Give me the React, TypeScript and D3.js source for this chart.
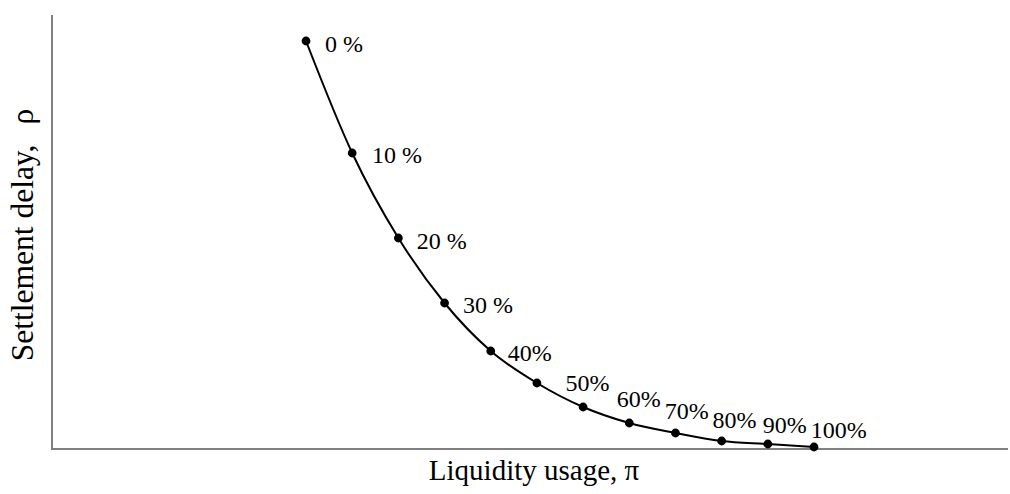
import React from "react";
import * as d3 from "d3";

// Liquidity usage (arbitrary units) and settlement delay (arbitrary units)
const usage = [5.5, 6.5, 7.5, 8.5, 9.5, 10.5, 11.5, 12.5, 13.5, 14.5, 15.5, 16.5];
const delay = [408, 296, 211, 146, 98, 66, 42, 26, 16, 8, 5, 2];

// Point annotations (text, anchor in data units)
const labelText = ["0 %", "10 %", "20 %", "30 %", "40%", "50%", "60%", "70%", "80%", "90%", "100%"];
const labelX = [5.91, 6.93, 7.9, 8.9, 9.87, 11.12, 12.23, 13.27, 14.3, 15.39, 16.43];
const labelY = [397, 286, 200, 136, 88, 58, 42, 30, 21, 16, 11];

const W = 1010;
const H = 494;

export default function App() {
  const x = d3.scaleLinear().domain([0, 20.7]).range([52, 1008]);
  const y = d3.scaleLinear().domain([0, 434]).range([449, 15]);
  const pts = usage.map((u, i) => [u, delay[i]] as [number, number]);
  const line = d3
    .line<[number, number]>()
    .x((d) => x(d[0]))
    .y((d) => y(d[1]))
    .curve(d3.curveMonotoneX);
  const font = "'Liberation Serif', 'Times New Roman', serif";
  return (
    <svg
      width={W}
      height={H}
      style={{ position: "absolute", left: 0, top: 0, background: "#fff" }}
    >
      <line x1={x(0)} x2={x(0)} y1={y(434)} y2={y(0)} stroke="#808080" strokeWidth={2} />
      <line x1={x(0) - 1} x2={x(20.7)} y1={y(0)} y2={y(0)} stroke="#808080" strokeWidth={2} />
      <path d={line(pts) || ""} fill="none" stroke="#000" strokeWidth={2} />
      {pts.map((p, i) => (
        <circle key={i} cx={x(p[0])} cy={y(p[1])} r={4.4} fill="#000" />
      ))}
      {labelText.map((t, i) => (
        <text key={t} x={x(labelX[i])} y={y(labelY[i])} fontFamily={font} fontSize={24} fill="#000">
          {t}
        </text>
      ))}
      <text x={534} y={480} textAnchor="middle" fontFamily={font} fontSize={29} fill="#000">
        Liquidity usage, π
      </text>
      <text
        transform={`translate(33, 235) rotate(-90)`}
        textAnchor="middle"
        fontFamily={font}
        fontSize={31.5}
        fill="#000"
      >
        Settlement delay,<tspan dx={20}>ρ</tspan>
      </text>
    </svg>
  );
}
